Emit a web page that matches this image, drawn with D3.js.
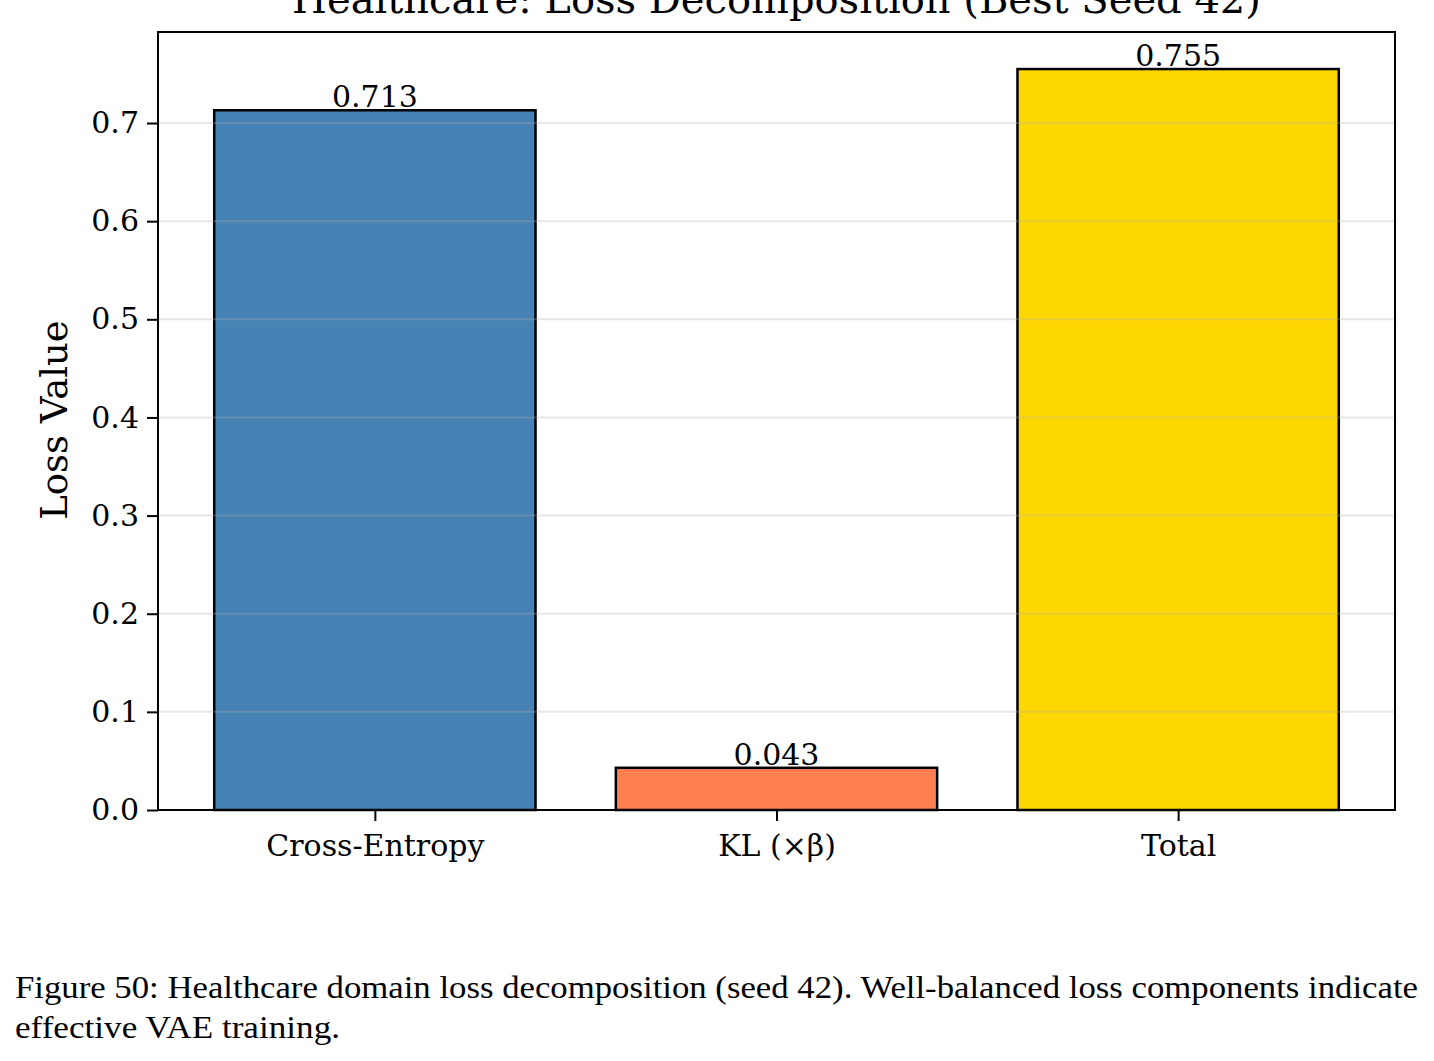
<!DOCTYPE html>
<html>
<head>
<meta charset="utf-8">
<script src="https://cdn.jsdelivr.net/npm/d3@7"></script>
<style>
  body { margin: 0; background: #fff; }
  svg { display: block; }
</style>
</head>
<body>
<div id="chart"></div>
<script>
// Chart data
const categories = ["Cross-Entropy", "KL (×β)", "Total"];
const lossValues = [0.713, 0.043, 0.755];
const barColors = ["#4682B4", "#FF7F50", "#FFD700"];
const yTicks = [0.0, 0.1, 0.2, 0.3, 0.4, 0.5, 0.6, 0.7];

const width = 1434, height = 1061;
const plot = { left: 158, right: 1395, top: 32, bottom: 810 };

const svg = d3.select("#chart")
    .append("svg")
    .attr("width", width)
    .attr("height", height);

// x: bar positions 0..n-1, width 0.8, 5% margins like matplotlib
const xScale = d3.scaleLinear()
    .domain([-0.54, categories.length - 1 + 0.54])
    .range([plot.left, plot.right]);

const yScale = d3.scaleLinear()
    .domain([0, d3.max(lossValues) * 1.05])
    .range([plot.bottom, plot.top]);

const serif = "'DejaVu Serif', serif";

// Bars
svg.selectAll(".bar")
    .data(lossValues)
    .enter()
    .append("rect")
    .attr("class", "bar")
    .attr("x", (d, i) => xScale(i - 0.4))
    .attr("y", d => yScale(d))
    .attr("width", (d, i) => xScale(i + 0.4) - xScale(i - 0.4))
    .attr("height", d => plot.bottom - yScale(d))
    .attr("fill", (d, i) => barColors[i])
    .attr("stroke", "#000")
    .attr("stroke-width", 2.5);

// Horizontal grid (on top of bars, semi transparent)
svg.append("g")
    .selectAll("line")
    .data(yTicks.slice(1))
    .enter()
    .append("line")
    .attr("x1", plot.left)
    .attr("x2", plot.right)
    .attr("y1", d => yScale(d))
    .attr("y2", d => yScale(d))
    .attr("stroke", "#b0b0b0")
    .attr("stroke-opacity", 0.3)
    .attr("stroke-width", 2);

// Value labels
svg.selectAll(".value")
    .data(lossValues)
    .enter()
    .append("text")
    .attr("x", (d, i) => xScale(i))
    .attr("y", d => yScale(d) - 3)
    .attr("text-anchor", "middle")
    .style("font-family", serif)
    .style("font-size", "30px")
    .text(d => d.toFixed(3));

// Axes
const yAxis = svg.append("g")
    .attr("transform", `translate(${plot.left},0)`)
    .call(d3.axisLeft(yScale).tickValues(yTicks).tickFormat(d3.format(".1f")).tickSize(11).tickPadding(8));

const xAxis = svg.append("g")
    .attr("transform", `translate(0,${plot.bottom})`)
    .call(d3.axisBottom(xScale).tickValues(d3.range(categories.length)).tickFormat(i => categories[i]).tickSize(11).tickPadding(14));

[xAxis, yAxis].forEach(ax => {
    ax.select(".domain").remove();
    ax.selectAll(".tick line").attr("stroke", "#000").attr("stroke-width", 2);
    ax.selectAll(".tick text")
        .attr("fill", "#000")
        .style("font-family", serif)
        .style("font-size", "30px");
});

// Frame
svg.append("rect")
    .attr("x", plot.left)
    .attr("y", plot.top)
    .attr("width", plot.right - plot.left)
    .attr("height", plot.bottom - plot.top)
    .attr("fill", "none")
    .attr("stroke", "#000")
    .attr("stroke-width", 2);

// Title (partly clipped at the top, as in the source)
svg.append("text")
    .attr("x", (plot.left + plot.right) / 2)
    .attr("y", 13)
    .attr("text-anchor", "middle")
    .style("font-family", serif)
    .style("font-size", "40px")
    .text("Healthcare: Loss Decomposition (Best Seed 42)");

// Y label
svg.append("text")
    .attr("transform", "rotate(-90)")
    .attr("x", -(plot.top + plot.bottom) / 2 + 1)
    .attr("y", 67)
    .attr("text-anchor", "middle")
    .style("font-family", serif)
    .style("font-size", "37px")
    .text("Loss Value");

// Caption
const caption = [
    "Figure 50: Healthcare domain loss decomposition (seed 42). Well-balanced loss components indicate",
    "effective VAE training."
];
const captionWidths = [1403, 325];
svg.selectAll(".caption")
    .data(caption)
    .enter()
    .append("text")
    .attr("x", 15)
    .attr("y", (d, i) => 998 + i * 40)
    .attr("textLength", (d, i) => captionWidths[i])
    .attr("lengthAdjust", "spacingAndGlyphs")
    .style("font-family", "'Liberation Serif', serif")
    .style("font-size", "32px")
    .text(d => d);
</script>
</body>
</html>
